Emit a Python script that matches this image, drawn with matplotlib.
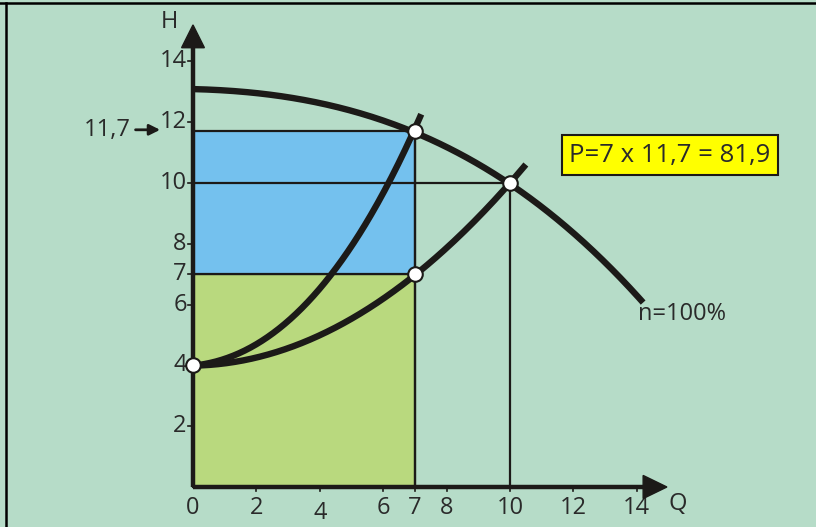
import numpy as np
import matplotlib
matplotlib.use("Agg")
import matplotlib.pyplot as plt
from matplotlib.patches import Rectangle, Polygon
from matplotlib.lines import Line2D

# ---- data ----
pump_q = [0, 3, 5, 7, 10, 12.3, 14.2]
pump_h = [13.1, 12.8, 12.35, 11.7, 10.0, 8.0, 6.1]

sys1_q = [0, 1.7, 4.3, 6.0, 7.0, 7.2]
sys1_h = [4.0, 4.5, 6.95, 9.65, 11.7, 12.35]

sys2_q = [0, 3.8, 7.0, 10.0, 10.5]
sys2_h = [4.0, 4.87, 7.0, 10.0, 10.6]

op_q = [0, 7, 7, 10]
op_h = [4, 11.7, 7, 10]

x_ticks = [2, 4, 6, 7, 8, 10, 12, 14]
y_ticks = [2, 4, 6, 7, 8, 10, 12, 14]

Q_op, H_op, H_sys = 7, 11.7, 7
P_text = "P=7 x 11,7 = 81,9"
curve_label = "n=100%"

BG = "#b6dcc8"
GREEN = "#b9d97e"
BLUE = "#74c1ee"
INK = "#1c1a18"
TXT = "#2a2a2a"
FONT = "Open Sans"

fig = plt.figure(figsize=(8.16, 5.27), dpi=100, facecolor=BG)
ax = fig.add_axes([0, 0, 1, 1])
ax.set_facecolor(BG)
ax.set_axis_off()
# origin at pixel (193, 487); 31.7 px per Q unit, 30.4 px per H unit
ax.set_xlim(-193 / 31.7, (816 - 193) / 31.7)
ax.set_ylim(-(527 - 487) / 30.4, 487 / 30.4)

# filled rectangles
ax.add_patch(Rectangle((0, 0), Q_op, H_sys, facecolor=GREEN, edgecolor=INK, lw=1.6, zorder=1))
ax.add_patch(Rectangle((0, H_sys), Q_op, H_op - H_sys, facecolor=BLUE, edgecolor=INK, lw=1.6, zorder=1))

# thin guide lines
ax.plot([0, 10], [10, 10], color=INK, lw=1.6, zorder=2)
ax.plot([10, 10], [0, 10], color=INK, lw=1.6, zorder=2)
ax.plot([7, 7], [0, 11.7], color=INK, lw=1.6, zorder=2)


def smooth(qs, hs, deg):
    c = np.polyfit(qs, hs, deg)
    xx = np.linspace(qs[0], qs[-1], 200)
    return xx, np.polyval(c, xx)


for qs, hs, d in [(pump_q, pump_h, 3), (sys1_q, sys1_h, 3), (sys2_q, sys2_h, 2)]:
    xx, yy = smooth(qs, hs, d)
    ax.plot(xx, yy, color=INK, lw=4.6, solid_capstyle="butt", zorder=3)

ax.scatter(op_q, op_h, s=110, facecolor="white", edgecolor=INK, linewidth=1.5, zorder=5, clip_on=False)

# axes with arrows
ax.plot([0, 0], [0, 14.5], color=INK, lw=3.2, zorder=4, solid_capstyle="butt")
ax.plot([0, 14.4], [0, 0], color=INK, lw=3.2, zorder=4, solid_capstyle="butt")
ax.add_patch(Polygon([[-0.36, 14.45], [0.36, 14.45], [0, 15.2]], closed=True, color=INK, zorder=4))
ax.add_patch(Polygon([[14.2, 0.38], [14.2, -0.38], [14.95, 0]], closed=True, color=INK, zorder=4))

# ticks
for t in y_ticks:
    ax.plot([-0.15, 0], [t, t], color=INK, lw=1.2, zorder=4)
for t in x_ticks:
    ax.plot([t, t], [-0.12, 0], color=INK, lw=1.2, zorder=4)

fs = 17
for t in y_ticks:
    ax.text(-0.2, t, str(t), ha="right", va="center", fontsize=fs, color=TXT, family=FONT)
ax.text(0, -0.28, "0", ha="center", va="top", fontsize=fs, color=TXT, family=FONT)
for t in x_ticks:
    dy = -0.45 if t == 4 else -0.28
    ax.text(t, dy, str(t), ha="center", va="top", fontsize=fs, color=TXT, family=FONT)

ax.text(-0.75, 15.3, "H", ha="center", va="center", fontsize=fs, color=TXT, family=FONT)
ax.text(15.3, -0.55, "Q", ha="center", va="center", fontsize=fs, color=TXT, family=FONT)

# 11,7 arrow label
ax.text(-1.95, 11.75, "11,7", ha="right", va="center", fontsize=fs, color=TXT, family=FONT)
ax.annotate("", xy=(-0.95, 11.75), xytext=(-1.9, 11.75),
            arrowprops=dict(arrowstyle="-|>", color=INK, lw=2.0, mutation_scale=16))

# yellow box
ax.text(15.05, 10.92, P_text, ha="center", va="center", fontsize=18.5, color=TXT, family=FONT,
        bbox=dict(boxstyle="square,pad=0.3", facecolor="#ffff00", edgecolor=INK, lw=1.5))

ax.text(14.05, 5.68, curve_label, ha="left", va="center", fontsize=fs, color=TXT, family=FONT)

# figure border (top and left)
fig.add_artist(Line2D([0, 1], [1 - 3 / 527, 1 - 3 / 527], transform=fig.transFigure, color="black", lw=1.8))
fig.add_artist(Line2D([6 / 816, 6 / 816], [0, 1 - 3 / 527], transform=fig.transFigure, color="black", lw=1.8))

fig.savefig("out.png", dpi=100, facecolor=BG)
